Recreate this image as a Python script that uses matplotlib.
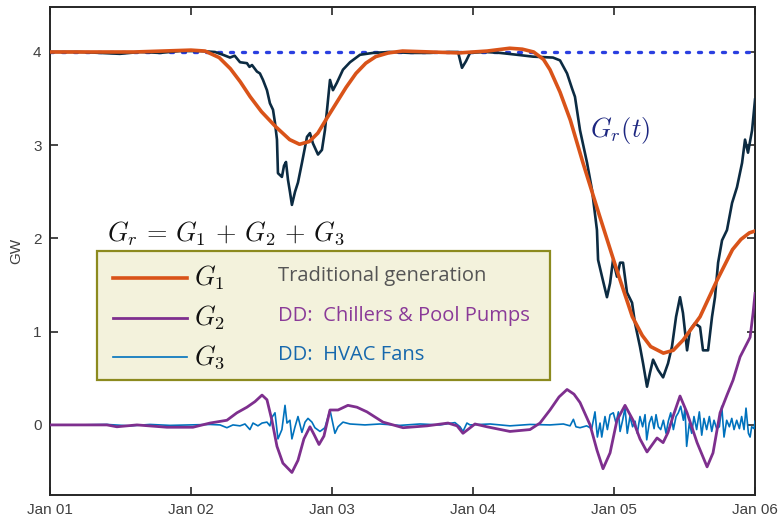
import numpy as np
import matplotlib
matplotlib.use("Agg")
from matplotlib import pyplot as plt
from matplotlib.patches import Rectangle

plt.rcParams['mathtext.fontset'] = 'cm'
plt.rcParams['font.family'] = ['Liberation Sans', 'DejaVu Sans']

# time axis in days since Jan 01
tick_days = [0, 1, 2, 3, 4, 5]
tick_labels = ['Jan 01', 'Jan 02', 'Jan 03', 'Jan 04', 'Jan 05', 'Jan 06']
y_ticks = [0, 1, 2, 3, 4]

# capacity level (dotted)
cap_level = 4.0

# G_r(t): total (dark)
gr_days = [0.0, 0.213, 0.355, 0.496, 0.638, 0.78, 0.922, 1.064, 1.17, 1.227, 1.277, 1.31, 1.348,
           1.397, 1.415, 1.433, 1.468, 1.489, 1.511, 1.539, 1.56, 1.582, 1.596, 1.61, 1.617, 1.631,
           1.645, 1.66, 1.674, 1.688, 1.702, 1.716, 1.738, 1.759, 1.787, 1.823, 1.844, 1.865,
           1.901, 1.929, 1.95, 1.965, 1.986, 2.007, 2.035, 2.078, 2.128, 2.199, 2.291, 2.411,
           2.553, 2.695, 2.837, 2.894, 2.922, 2.95, 2.979, 3.085, 3.191, 3.312, 3.426, 3.567,
           3.617, 3.667, 3.702, 3.723, 3.759, 3.809, 3.844, 3.879, 3.887, 3.915, 3.95, 3.972,
           3.993, 4.021, 4.043, 4.064, 4.092, 4.128, 4.149, 4.184, 4.206, 4.234, 4.255, 4.277,
           4.312, 4.348, 4.383, 4.411, 4.44, 4.468, 4.489, 4.518, 4.539, 4.574, 4.61, 4.631,
           4.667, 4.695, 4.716, 4.738, 4.766, 4.801, 4.837, 4.872, 4.908, 4.929, 4.95, 4.979, 5.0]
gr_vals = [4.00, 4.00, 3.99, 3.98, 4.00, 3.99, 4.01, 4.01, 4.00, 3.97, 3.94, 3.96, 3.89,
           3.88, 3.84, 3.86, 3.79, 3.77, 3.70, 3.59, 3.45, 3.38, 3.24, 3.06, 2.70, 2.68,
           2.66, 2.78, 2.82, 2.63, 2.50, 2.36, 2.50, 2.60, 2.81, 3.09, 3.13, 3.02,
           2.90, 2.95, 3.16, 3.38, 3.70, 3.59, 3.67, 3.81, 3.89, 3.97, 3.99, 4.00,
           3.99, 3.99, 4.00, 4.00, 3.83, 3.90, 3.99, 4.00, 3.99, 3.97, 3.95, 3.94,
           3.91, 3.77, 3.61, 3.52, 3.16, 2.81, 2.52, 2.09, 1.77, 1.59, 1.37, 1.52,
           1.77, 1.59, 1.74, 1.74, 1.42, 1.31, 1.09, 0.84, 0.66, 0.41, 0.56, 0.70,
           0.59, 0.51, 0.66, 0.84, 1.16, 1.37, 1.20, 0.80, 1.02, 1.09, 1.05, 0.80,
           0.80, 1.16, 1.37, 1.74, 1.98, 2.09, 2.38, 2.55, 2.81, 3.06, 2.92, 3.16, 3.49]

# G1: traditional generation (smooth)
g1_days = [0.0, 0.3, 0.6, 0.8, 1.0, 1.1, 1.2, 1.28, 1.35, 1.42, 1.5, 1.6, 1.7, 1.77,
           1.84, 1.9, 1.96, 2.03, 2.1, 2.17, 2.24, 2.31, 2.4, 2.5, 2.7, 2.9, 3.1, 3.26,
           3.35, 3.43, 3.5, 3.546, 3.617, 3.69, 3.78, 3.9, 4.02, 4.13, 4.2, 4.26, 4.35,
           4.42, 4.49, 4.61, 4.73, 4.84, 4.9, 4.96, 5.0]
g1_vals = [4.00, 4.00, 4.00, 4.01, 4.02, 4.01, 3.94, 3.82, 3.68, 3.52, 3.36, 3.20, 3.06, 3.01,
           3.04, 3.13, 3.28, 3.45, 3.62, 3.77, 3.88, 3.95, 3.99, 4.01, 4.00, 3.99, 4.01, 4.04,
           4.03, 4.00, 3.92, 3.81, 3.57, 3.27, 2.81, 2.23, 1.66, 1.16, 0.96, 0.84, 0.77,
           0.80, 0.91, 1.16, 1.55, 1.88, 1.99, 2.06, 2.08]

# G2: chillers & pool pumps
g2_days = [0.0, 0.213, 0.404, 0.475, 0.617, 0.83, 1.014, 1.135, 1.255, 1.326, 1.397, 1.454,
           1.504, 1.539, 1.574, 1.61, 1.652, 1.716, 1.759, 1.801, 1.844, 1.872, 1.908, 1.943,
           1.986, 2.043, 2.113, 2.177, 2.248, 2.362, 2.504, 2.674, 2.823, 2.887, 2.929, 2.972,
           3.014, 3.099, 3.262, 3.404, 3.475, 3.546, 3.61, 3.667, 3.716, 3.759, 3.83, 3.879,
           3.922, 3.972, 4.021, 4.078, 4.135, 4.184, 4.234, 4.305, 4.348, 4.383, 4.418, 4.468,
           4.518, 4.589, 4.66, 4.702, 4.752, 4.801, 4.844, 4.894, 4.965, 4.986, 5.0]
g2_vals = [0.0, 0.0, 0.0, -0.02, 0.0, -0.025, -0.025, 0.02, 0.05, 0.13, 0.19, 0.25,
           0.32, 0.27, 0.05, -0.23, -0.41, -0.51, -0.38, -0.15, -0.02, -0.10, -0.21, -0.12,
           0.16, 0.16, 0.21, 0.19, 0.14, 0.03, -0.03, -0.01, 0.02, -0.01, -0.09, -0.04,
           0.01, -0.02, -0.07, -0.05, 0.02, 0.16, 0.30, 0.38, 0.33, 0.24, 0.0, -0.27,
           -0.47, -0.30, 0.05, 0.21, 0.05, -0.15, -0.29, -0.14, -0.19, -0.08, 0.09, 0.31,
           0.13, -0.19, -0.45, -0.30, 0.13, 0.32, 0.48, 0.73, 0.94, 1.2, 1.41]

# G3: HVAC fans
g3_days = [0.0, 0.213, 0.404, 0.567, 0.709, 0.851, 0.993, 1.135, 1.206, 1.255, 1.298, 1.348,
           1.383, 1.418, 1.44, 1.475, 1.504, 1.539, 1.56, 1.574, 1.596, 1.617, 1.645, 1.667,
           1.681, 1.702, 1.716, 1.738, 1.759, 1.787, 1.809, 1.83, 1.858, 1.879, 1.915, 1.95,
           1.986, 2.021, 2.043, 2.078, 2.128, 2.234, 2.34, 2.482, 2.624, 2.766, 2.872, 2.908,
           2.929, 2.957, 2.979, 3.121, 3.262, 3.404, 3.546, 3.641, 3.688, 3.712, 3.73, 3.759,
           3.806, 3.842, 3.865, 3.882, 3.901, 3.913, 3.936, 3.953, 3.972, 3.995, 4.014, 4.031,
           4.043, 4.061, 4.078, 4.094, 4.113, 4.132, 4.149, 4.165, 4.184, 4.203, 4.22, 4.232,
           4.25, 4.267, 4.284, 4.298, 4.314, 4.331, 4.35, 4.369, 4.385, 4.402, 4.421, 4.44,
           4.456, 4.473, 4.492, 4.503, 4.515, 4.534, 4.551, 4.567, 4.586, 4.605, 4.622, 4.638,
           4.657, 4.676, 4.693, 4.709, 4.728, 4.747, 4.764, 4.78, 4.799, 4.818, 4.835, 4.851,
           4.87, 4.889, 4.905, 4.922, 4.936, 4.953, 4.965, 4.976, 4.993, 5.0]
g3_vals = [0.0, 0.0, 0.005, -0.01, 0.005, -0.005, 0.0, 0.005, 0.0, -0.03, 0.0, -0.01,
           0.01, -0.05, 0.02, -0.01, 0.02, 0.03, -0.01, 0.08, 0.13, -0.15, -0.05, 0.21,
           0.02, 0.05, -0.15, -0.02, 0.09, -0.08, 0.03, 0.07, 0.03, -0.03, -0.07, -0.03,
           0.16, -0.09, -0.02, 0.03, 0.01, 0.0, 0.01, -0.005, 0.01, 0.0, 0.025, -0.02,
           -0.07, 0.02, 0.0, 0.01, -0.01, 0.005, 0.0, 0.01, -0.01, 0.06, -0.02, -0.03,
           -0.01, -0.04, 0.14, -0.13, 0.02, -0.13, 0.09, -0.05, 0.11, 0.13, 0.02, 0.14,
           -0.07, 0.05, 0.18, -0.09, 0.09, -0.02, 0.04, -0.09, 0.09, -0.02, 0.11, -0.16,
           0.02, 0.09, -0.04, 0.11, -0.02, -0.05, 0.05, -0.09, 0.04, 0.13, -0.05, 0.09,
           0.13, 0.2, 0.05, 0.18, -0.23, 0.02, -0.09, 0.09, -0.05, 0.14, -0.11, 0.07,
           -0.05, 0.09, -0.07, 0.05, -0.04, -0.02, 0.2, -0.13, 0.05, -0.02, 0.07, -0.05,
           0.05, -0.04, 0.09, -0.05, 0.18, -0.09, -0.13, -0.02, -0.04, 0.04]

c_gr = '#0c2b42'
c_cap = '#2a3fe0'
c_g1 = '#d95319'
c_g2 = '#7e2f8e'
c_g3 = '#0072bd'

fig = plt.figure(figsize=(7.8, 5.16), dpi=100)
ax = fig.add_axes([0.064, 0.041, 0.904, 0.945])

ax.plot([0, 5], [cap_level, cap_level], color=c_cap, lw=2.4,
        linestyle=(0, (0.9, 2.7)), dash_capstyle='round', zorder=2)
ax.plot(gr_days, gr_vals, color=c_gr, lw=1.9, zorder=3)
ax.plot(g3_days, g3_vals, color=c_g3, lw=1.2, zorder=4)
ax.plot(g2_days, g2_vals, color=c_g2, lw=2.0, zorder=5)
ax.plot(g1_days, g1_vals, color=c_g1, lw=2.6, zorder=6)

ax.set_xlim(0, 5)
ax.set_ylim(-0.75, 4.48)
ax.set_xticks(tick_days)
ax.set_xticklabels(tick_labels)
ax.set_yticks(y_ticks)
ax.tick_params(direction='in', length=6, width=1.2, top=True, right=True,
               labelsize=11, labelcolor='#404040', color='#262626', pad=6)
for s in ax.spines.values():
    s.set_linewidth(1.4)
    s.set_color('#262626')
ax.set_ylabel('GW', fontsize=11, color='#404040', labelpad=7)

# annotations
ax.text(0.081, 0.537, r'$G_r \,=\, G_1 \,+\, G_2 \,+\, G_3$', transform=ax.transAxes,
        fontsize=19, va='center', ha='left', color='#111111')
ax.text(0.766, 0.748, r'$G_r(t)$', transform=ax.transAxes,
        fontsize=19, va='center', ha='left', color='#1c2680')

# hand made legend box
ax.add_patch(Rectangle((0.0667, 0.2357), 0.642, 0.2643, transform=ax.transAxes,
                       facecolor='#f3f2dc', edgecolor='#8c8a1e', lw=1.6, zorder=7))
rows = [(0.4447, c_g1, 2.6, r'$G_1$', 'Traditional generation', '#555555'),
        (0.3627, c_g2, 2.0, r'$G_2$', 'DD:  Chillers & Pool Pumps', '#8a3a98'),
        (0.2828, c_g3, 1.2, r'$G_3$', 'DD:  HVAC Fans', '#1668ad')]
for yy, col, lw, sym, desc, tcol in rows:
    ax.plot([0.0894, 0.194], [yy, yy], color=col, lw=lw, transform=ax.transAxes, zorder=8)
    ax.text(0.205, yy, sym, transform=ax.transAxes, fontsize=19, va='center',
            ha='left', color='#111111', zorder=8)
    ax.text(0.3234, yy + 0.004, desc, transform=ax.transAxes, fontsize=14.5, va='center',
            ha='left', color=tcol, family=['Open Sans', 'DejaVu Sans'], zorder=8)

fig.savefig('out.png', dpi=100)
